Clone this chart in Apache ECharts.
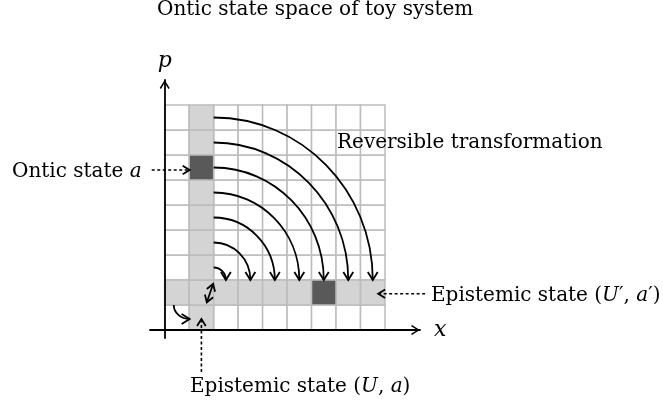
<!DOCTYPE html>
<html>
<head>
<meta charset="utf-8">
<script src="https://cdn.jsdelivr.net/npm/echarts@6/dist/echarts.min.js"></script>
<style>
html, body { margin: 0; padding: 0; background: #fff; }
#chart { width: 663px; height: 413px; }
</style>
</head>
<body>
<div id="chart"></div>
<script>
// toy system: 9 x 9 grid of ontic states
var gridSize = 9;
var epistemicColumn = 1;   // epistemic state (U, a)
var epistemicRow = 1;      // epistemic state (U', a')
var onticStates = [[1, 6], [6, 1]];

// curved arrows: x0, y0, x1, y1, leaves vertically (1) or horizontally (0)
var curvedArrows = [
	[2, 8.5, 8.5, 2, 0],
	[2, 7.5, 7.5, 2, 0],
	[2, 6.5, 6.5, 2, 0],
	[2, 5.5, 5.5, 2, 0],
	[2, 4.5, 4.5, 2, 0],
	[2, 3.5, 3.5, 2, 0],
	[2, 2.5, 2.5, 2, 0],
	[0.37, 1.0, 1.02, 0.44, 1]
];
// double headed arrow inside the crossing cell
var swapArrows = [[1.98, 1.85, 1.72, 1.1]];
// dashed pointers from the labels: x0, y0, x1, y1
var pointers = [
	[-0.53, 6.4, 1.02, 6.4],
	[10.64, 1.45, 8.72, 1.45],
	[1.5, -1.68, 1.5, 0.44]
];

var serif = 'DejaVu Serif';
var cellColors = ['#ffffff', '#d4d4d4', '#595959'];

var cells = [];
for (var x = 0; x < gridSize; x++) {
	for (var y = 0; y < gridSize; y++) {
		var kind = (x == epistemicColumn || y == epistemicRow) ? 1 : 0;
		onticStates.forEach(function (s) {
			if (s[0] == x && s[1] == y) kind = 2;
		});
		cells.push([x, y, kind]);
	}
}
cells.sort(function (a, b) { return a[2] - b[2]; });

function arrowHead(tip, from, size) {
	var dx = tip[0] - from[0], dy = tip[1] - from[1];
	var len = Math.sqrt(dx * dx + dy * dy) || 1;
	dx /= len; dy /= len;
	var bx = tip[0] - dx * size, by = tip[1] - dy * size;
	var px = -dy * size * 0.62, py = dx * size * 0.62;
	return {
		type: 'polyline',
		shape: { points: [[bx + px, by + py], tip, [bx - px, by - py]] },
		style: { stroke: '#000', lineWidth: 1.8, fill: null }
	};
}

function renderCell(params, api) {
	var p0 = api.coord([api.value(0), api.value(1) + 1]);
	var p1 = api.coord([api.value(0) + 1, api.value(1)]);
	return {
		type: 'rect',
		shape: { x: p0[0], y: p0[1], width: p1[0] - p0[0], height: p1[1] - p0[1] },
		style: { fill: cellColors[api.value(2)], stroke: '#bcbcbc', lineWidth: 1.5 }
	};
}

function renderCurve(params, api) {
	var s = api.coord([api.value(0), api.value(1)]);
	var e = api.coord([api.value(2), api.value(3)]);
	var k = 0.5523;
	var c1, c2;
	if (api.value(4) == 1) {
		c1 = [s[0], s[1] + k * (e[1] - s[1])];
		c2 = [e[0] + k * (s[0] - e[0]), e[1]];
	} else {
		c1 = [s[0] + k * (e[0] - s[0]), s[1]];
		c2 = [e[0], e[1] + k * (s[1] - e[1])];
	}
	return {
		type: 'group',
		children: [{
			type: 'bezierCurve',
			shape: { x1: s[0], y1: s[1], cpx1: c1[0], cpy1: c1[1], cpx2: c2[0], cpy2: c2[1], x2: e[0], y2: e[1] },
			style: { stroke: '#000', lineWidth: 1.8, fill: null }
		}, arrowHead(e, c2, 8)]
	};
}

function renderSwap(params, api) {
	var s = api.coord([api.value(0), api.value(1)]);
	var e = api.coord([api.value(2), api.value(3)]);
	return {
		type: 'group',
		children: [{
			type: 'line',
			shape: { x1: s[0], y1: s[1], x2: e[0], y2: e[1] },
			style: { stroke: '#000', lineWidth: 1.8 }
		}, arrowHead(s, e, 7), arrowHead(e, s, 7)]
	};
}

function renderPointer(params, api) {
	var s = api.coord([api.value(0), api.value(1)]);
	var e = api.coord([api.value(2), api.value(3)]);
	return {
		type: 'group',
		children: [{
			type: 'line',
			shape: { x1: s[0], y1: s[1], x2: e[0], y2: e[1] },
			style: { stroke: '#000', lineWidth: 1.6, lineDash: [3, 2.5] }
		}, arrowHead(e, s, 7)]
	};
}

var chart = echarts.init(document.getElementById('chart'));
var axisArrow = 'path://M5,0 L10,8 L8.7,8.9 L5,2.7 L1.3,8.9 L0,8 Z';
var italic = { i: { fontStyle: 'italic', fontFamily: serif, fontSize: 20 } };
var option = {
	animation: false,
	backgroundColor: '#fff',
	title: {
		text: 'Ontic state space of toy system',
		left: 157,
		top: 0,
		padding: 0,
		textStyle: { fontFamily: serif, fontSize: 20, fontWeight: 'normal', color: '#000' }
	},
	grid: { left: 150, top: 80, width: 270, height: 258 },
	xAxis: {
		type: 'value', min: -0.6, max: 10.43, z: 10,
		name: 'x', nameLocation: 'end', nameGap: 14,
		nameTextStyle: { fontFamily: serif, fontStyle: 'italic', fontSize: 22, color: '#000' },
		axisLine: { onZero: true, symbol: ['none', axisArrow], symbolSize: [10, 9], symbolOffset: [0, -4.5], lineStyle: { color: '#000', width: 1.8 } },
		axisTick: { show: false }, axisLabel: { show: false }, splitLine: { show: false }
	},
	yAxis: {
		type: 'value', min: -0.32, max: 10, z: 10,
		name: 'p', nameLocation: 'end', nameGap: 8,
		nameTextStyle: { fontFamily: serif, fontStyle: 'italic', fontSize: 22, color: '#000' },
		axisLine: { onZero: true, symbol: ['none', axisArrow], symbolSize: [10, 9], symbolOffset: [0, -4.5], lineStyle: { color: '#000', width: 1.8 } },
		axisTick: { show: false }, axisLabel: { show: false }, splitLine: { show: false }
	},
	graphic: [
		{ type: 'text', z: 20, x: 12, y: 172, style: { text: 'Ontic state {i|a}', fontFamily: serif, fontSize: 20, fill: '#000', verticalAlign: 'middle', rich: italic } },
		{ type: 'text', z: 20, x: 337, y: 143, style: { text: 'Reversible transformation', fontFamily: serif, fontSize: 20, fill: '#000', verticalAlign: 'middle' } },
		{ type: 'text', z: 20, x: 431, y: 296, style: { text: 'Epistemic state ({i|U}′, {i|a}′)', fontFamily: serif, fontSize: 20, fill: '#000', verticalAlign: 'middle', rich: italic } },
		{ type: 'text', z: 20, x: 190, y: 387, style: { text: 'Epistemic state ({i|U}, {i|a})', fontFamily: serif, fontSize: 20, fill: '#000', verticalAlign: 'middle', rich: italic } }
	],
	series: [
		{ type: 'custom', name: 'cells', renderItem: renderCell, data: cells, z: 1 },
		{ type: 'custom', name: 'transformation', renderItem: renderCurve, data: curvedArrows, z: 3 },
		{ type: 'custom', name: 'swap', renderItem: renderSwap, data: swapArrows, z: 3 },
		{ type: 'custom', name: 'pointers', renderItem: renderPointer, data: pointers, z: 3 }
	]
};
chart.setOption(option);
</script>
</body>
</html>
